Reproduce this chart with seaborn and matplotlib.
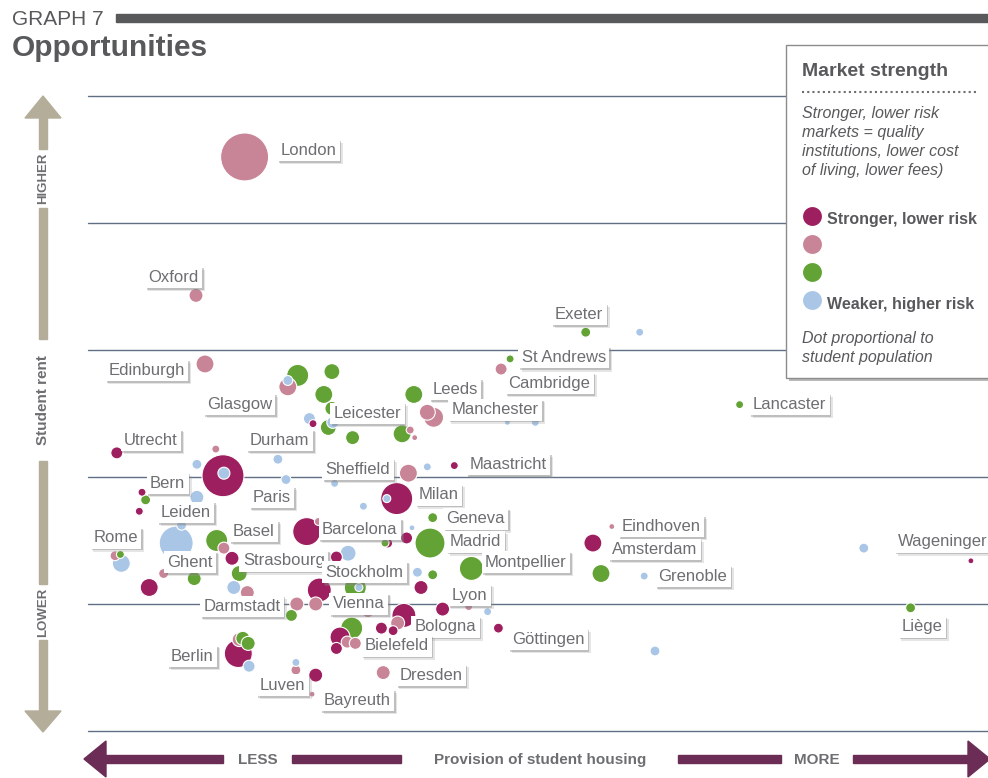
import numpy as np
import pandas as pd
import matplotlib.pyplot as plt
import matplotlib.patheffects as pe
from matplotlib.patches import Rectangle, Polygon
import seaborn as sns

# provision of student housing (index 0-100), student rent (index 0-5),
# students (thousands), market strength class (0 = strongest .. 3 = weakest)
housing = [17.4, 12.0, 55.3, 61.3, 46.9, 45.9, 13.0, 72.4, 23.3, 22.2, 22.2, 27.1, 26.2, 27.1,
           25.0, 24.6, 26.7, 27.2, 29.4, 36.2, 37.7, 38.4, 35.8, 36.3, 34.9, 46.6, 49.7, 3.2,
           14.2, 12.1, 15.0, 15.1, 21.1, 22.0, 27.4, 30.6, 6.0, 6.4, 5.7, 12.1, 35.6, 37.7,
           40.7, 34.3, 33.2, 38.3, 24.3, 25.6, 36.0, 35.4, 33.3, 33.0, 38.0, 28.9, 27.6, 42.6,
           36.6, 38.3, 37.0, 29.7, 30.1, 25.7, 25.3, 23.2, 39.4, 42.3, 44.4, 45.6, 35.1, 34.4,
           32.6, 33.9, 31.1, 29.3, 28.0, 28.8, 29.7, 27.6, 32.8, 25.3, 24.9, 9.8, 10.4, 3.0,
           3.6, 3.7, 14.3, 15.1, 16.0, 16.8, 8.4, 11.8, 6.8, 16.2, 17.7, 22.6, 16.7, 16.8,
           17.2, 17.8, 17.9, 23.1, 23.1, 58.2, 56.1, 57.0, 61.8, 86.2, 98.1, 91.4, 63.0]
rent = [4.52, 3.43, 3.14, 3.14, 2.93, 2.85, 2.89, 2.57, 2.80, 2.71, 2.76, 2.83, 2.65, 2.54,
        2.42, 2.46, 2.39, 2.43, 2.31, 2.65, 2.51, 2.47, 2.37, 2.31, 2.34, 2.43, 2.43, 2.19,
        2.22, 2.10, 2.01, 2.03, 2.14, 1.98, 1.95, 1.77, 1.88, 1.82, 1.73, 1.84, 2.03, 2.08,
        2.09, 1.83, 1.83, 1.68, 1.57, 1.65, 1.60, 1.52, 1.48, 1.48, 1.48, 1.40, 1.37, 1.28,
        1.25, 1.23, 1.13, 1.13, 1.13, 1.11, 1.00, 1.00, 0.96, 0.98, 0.94, 0.81, 0.91, 0.85,
        0.81, 0.79, 0.94, 0.81, 0.74, 0.70, 0.69, 0.65, 0.46, 0.44, 0.29, 1.48, 1.62, 1.38,
        1.39, 1.32, 1.50, 1.44, 1.36, 1.24, 1.24, 1.20, 1.13, 1.13, 1.09, 0.91, 0.61, 0.72,
        0.73, 0.69, 0.51, 0.54, 0.48, 1.61, 1.48, 1.24, 1.22, 1.44, 1.34, 0.97, 0.63]
students = [400, 34, 17, 11, 11, 25, 56, 11, 84, 56, 17, 44, 56, 34,
            11, 25, 44, 25, 34, 56, 44, 69, 11, 6, 56, 6, 11, 25,
            11, 17, 306, 25, 17, 17, 11, 11, 11, 17, 11, 34, 56, 11,
            11, 178, 11, 17, 136, 11, 6, 25, 17, 11, 156, 44, 25, 100,
            17, 17, 34, 84, 11, 100, 34, 34, 34, 11, 11, 17, 100, 34,
            25, 17, 25, 84, 69, 25, 25, 25, 34, 34, 6, 200, 17, 17,
            11, 56, 84, 25, 34, 44, 17, 34, 56, 34, 34, 25, 136, 34,
            34, 34, 25, 11, 17, 6, 56, 56, 11, 17, 6, 17, 17]
strength = [1, 1, 2, 3, 2, 1, 1, 2, 2, 1, 3, 2, 2, 2,
            0, 3, 2, 3, 2, 2, 1, 1, 1, 1, 2, 3, 3, 0,
            1, 3, 0, 3, 3, 3, 3, 3, 0, 2, 0, 3, 1, 3,
            0, 0, 3, 2, 0, 1, 3, 0, 0, 2, 2, 3, 0, 2,
            3, 2, 0, 2, 3, 0, 1, 1, 0, 1, 3, 0, 0, 1,
            0, 0, 1, 2, 0, 1, 1, 0, 1, 0, 1, 3, 3, 1,
            2, 3, 2, 1, 0, 2, 1, 2, 0, 3, 1, 2, 0, 1,
            2, 2, 3, 3, 1, 1, 0, 2, 3, 3, 0, 2, 3]

strength_names = ['Stronger, lower risk', 'Fairly strong', 'Fairly weak', 'Weaker, higher risk']
colours = ['#9E1F5F', '#C88597', '#63A335', '#A9C6E6']

city_names = ['London', 'Oxford', 'Exeter', 'St Andrews', 'Cambridge', 'Edinburgh', 'Leeds',
              'Glasgow', 'Leicester', 'Manchester', 'Lancaster', 'Utrecht', 'Durham', 'Sheffield',
              'Maastricht', 'Bern', 'Paris', 'Milan', 'Leiden', 'Geneva', 'Eindhoven', 'Basel',
              'Barcelona', 'Rome', 'Madrid', 'Wageninger', 'Amsterdam', 'Ghent', 'Strasbourg',
              'Montpellier', 'Stockholm', 'Grenoble', 'Lyon', 'Darmstadt', 'Vienna', 'Bologna',
              'Liège', 'Göttingen', 'Bielefeld', 'Berlin', 'Dresden', 'Luven', 'Bayreuth']
# where each city's name tag sits (left edge, centre) in data units
label_x = [21.4, 6.7, 51.9, 48.2, 46.7, 2.3, 38.3, 13.2, 27.3, 40.4, 73.9, 4.0, 18.0, 26.4,
           42.4, 6.9, 18.3, 36.7, 8.1, 39.8, 59.3, 16.1, 26.0, 0.6, 40.2, 90.0, 58.2, 8.8,
           17.2, 44.1, 26.4, 63.4, 40.4, 12.8, 27.2, 36.3, 90.4, 47.1, 30.7, 9.2, 34.6, 19.1, 26.2]
label_y = [4.57, 3.57, 3.28, 2.94, 2.74, 2.84, 2.69, 2.57, 2.50, 2.53, 2.57, 2.29, 2.29, 2.06,
           2.10, 1.95, 1.84, 1.86, 1.72, 1.67, 1.61, 1.57, 1.59, 1.52, 1.49, 1.49, 1.43, 1.33,
           1.34, 1.33, 1.25, 1.22, 1.07, 0.98, 1.00, 0.82, 0.82, 0.72, 0.67, 0.59, 0.44, 0.36, 0.24]

df = pd.DataFrame({'housing': housing, 'rent': rent, 'students': students,
                   'strength': [strength_names[i] for i in strength]})
df = df.sort_values('students', ascending=False, kind='stable')

sns.set_theme(style='white')
plt.rcParams['font.family'] = ['Liberation Sans', 'DejaVu Sans']

fig = plt.figure(figsize=(9.88, 7.78), dpi=100)
ax = fig.add_axes([88 / 988, 47 / 778, 900 / 988, 635 / 778])
ax.set_xlim(0, 100)
ax.set_ylim(0, 5)
ax.axis('off')

for gy in range(6):
    ax.axhline(gy, color='#5F6F84', lw=1, zorder=0, clip_on=False)

sns.scatterplot(data=df, x='housing', y='rent', hue='strength', size='students',
                hue_order=strength_names, palette=dict(zip(strength_names, colours)),
                sizes=(0, 1194), size_norm=(0, 400), edgecolor='white', linewidth=0.8,
                legend=False, ax=ax, zorder=2)

# soft-ish drop shadow under the name tags
shadow = [pe.SimplePatchShadow(offset=(2.2, -2.2), shadow_rgbFace='#999999', alpha=0.25),
          pe.SimplePatchShadow(offset=(1.2, -1.2), shadow_rgbFace='#777777', alpha=0.35),
          pe.Normal()]
for name, lx, ly in zip(city_names, label_x, label_y):
    t = ax.text(lx, ly, name, ha='left', va='center', fontsize=12, color='#6D6E71', zorder=5,
                bbox=dict(boxstyle='square,pad=0.2', fc='white', ec='none'))
    t.get_bbox_patch().set_path_effects(shadow)

# decoration layer in pixel units
ov = fig.add_axes([0, 0, 1, 1], zorder=10)
ov.set_xlim(0, 988)
ov.set_ylim(778, 0)
ov.axis('off')

ov.text(12, 19, 'GRAPH 7', fontsize=15, color='#58595B', va='center', ha='left')
ov.add_patch(Rectangle((116, 14), 872, 8, color='#58595B'))
ov.text(12, 48, 'Opportunities', fontsize=21.5, fontweight='bold', color='#58595B',
        va='center', ha='left')

# vertical axis arrow
tan = '#B4AD99'
ov.add_patch(Polygon([(43, 96), (25, 118), (61, 118)], color=tan))
ov.add_patch(Polygon([(43, 732), (25, 711), (61, 711)], color=tan))
for y0, y1 in [(117, 149), (208, 339), (461, 584), (640, 712)]:
    ov.add_patch(Rectangle((39, y0), 8, y1 - y0, color=tan))
for txt, yy, fs in [('HIGHER', 178, 9.5), ('Student rent', 400, 11), ('LOWER', 612, 9.5)]:
    ov.text(43, yy, txt, rotation=90, fontsize=fs, fontweight='bold', color='#6D6E71',
            ha='center', va='center')

# horizontal axis arrow
plum = '#6B2D55'
ov.add_patch(Polygon([(84, 759), (106, 741), (106, 777)], color=plum))
ov.add_patch(Polygon([(990, 759), (968, 741), (968, 777)], color=plum))
for x0, x1 in [(105, 223), (292, 401), (678, 781), (853, 969)]:
    ov.add_patch(Rectangle((x0, 755), x1 - x0, 8, color=plum))
for txt, xx in [('LESS', 258), ('Provision of student housing', 540), ('MORE', 817)]:
    ov.text(xx, 760, txt, fontsize=11, fontweight='bold', color='#6D6E71',
            ha='center', va='center')

# legend panel
box = Rectangle((786, 45), 210, 333, fc='white', ec='#8C8C8C', lw=1)
box.set_path_effects([pe.SimplePatchShadow(offset=(2, -2), shadow_rgbFace='#777777', alpha=0.5),
                      pe.Normal()])
ov.add_patch(box)
ov.text(802, 71, 'Market strength', fontsize=14, fontweight='bold', color='#58595B', va='center')
ov.plot([802, 978], [92, 92], color='#6D6E71', lw=1.5, ls=(0, (1, 1.5)))
for i, line in enumerate(['Stronger, lower risk', 'markets = quality',
                          'institutions, lower cost', 'of living, lower fees)']):
    ov.text(802, 113 + 19 * i, line, fontsize=11.5, fontstyle='italic', color='#58595B', va='center')
for i, c in enumerate(colours):
    ov.scatter(812, 216 + 28 * i, s=207, color=c, edgecolor='white', lw=0.8)
ov.text(827, 219, strength_names[0], fontsize=11.5, fontweight='bold', color='#58595B', va='center')
ov.text(827, 304, strength_names[3], fontsize=11.5, fontweight='bold', color='#58595B', va='center')
ov.text(802, 338, 'Dot proportional to', fontsize=11.5, fontstyle='italic', color='#58595B', va='center')
ov.text(802, 357, 'student population', fontsize=11.5, fontstyle='italic', color='#58595B', va='center')

fig.savefig('out.png', dpi=100)
